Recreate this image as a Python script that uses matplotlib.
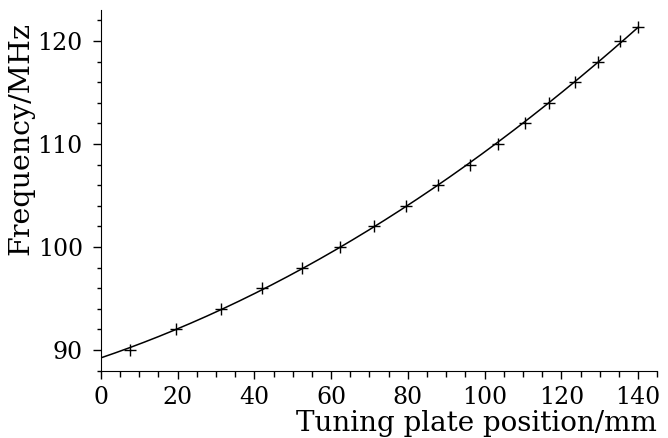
import numpy as np
import matplotlib.pyplot as plt
from matplotlib.ticker import MultipleLocator

# Measured tuning plate positions (mm) and resonant frequency (MHz)
position_mm = [7.5, 19.5, 31.3, 42.0, 52.3, 62.2, 71.2, 79.5, 87.8,
               96.3, 103.5, 110.4, 116.9, 123.6, 129.6, 135.3, 140.0]
frequency_mhz = [90.0, 92.0, 94.0, 96.0, 98.0, 100.0, 102.0, 104.0, 106.0,
                 108.0, 110.0, 112.0, 114.0, 116.0, 118.0, 120.0, 121.4]

x_ticks = [0, 20, 40, 60, 80, 100, 120, 140]
y_ticks = [90, 100, 110, 120]


def main():
    plt.rcParams["font.family"] = ["DejaVu Serif"]

    fig = plt.figure(figsize=(6.68, 4.38), dpi=100)
    ax = fig.add_axes([0.151, 0.154, 0.833, 0.823])

    # smooth calibration curve fitted through the measurements
    coeffs = np.polyfit(position_mm, frequency_mhz, 2)
    xs = np.linspace(0, 140, 300)
    ax.plot(xs, np.polyval(coeffs, xs), color="black", lw=1.1)

    ax.plot(position_mm, frequency_mhz, linestyle="none", marker="+",
            markersize=9, markeredgewidth=1.0, color="black")

    ax.set_xlim(0, 145)
    ax.set_ylim(88, 123)
    ax.set_xticks(x_ticks)
    ax.set_yticks(y_ticks)
    ax.xaxis.set_minor_locator(MultipleLocator(5))
    ax.yaxis.set_minor_locator(MultipleLocator(2))

    ax.spines["top"].set_visible(False)
    ax.spines["right"].set_visible(False)
    ax.tick_params(axis="x", which="major", direction="out", length=6,
                   width=1, labelsize=17, pad=5)
    ax.tick_params(axis="x", which="minor", direction="out", length=4,
                   width=1)
    ax.tick_params(axis="y", which="major", direction="out", length=6,
                   width=1, labelsize=17, pad=7)
    ax.tick_params(axis="y", which="minor", direction="out", length=3,
                   width=1)

    ax.set_xlabel("Tuning plate position/mm", fontsize=20, loc="right")
    ax.xaxis.set_label_coords(1.0, -0.11)
    ax.set_ylabel("Frequency/MHz", fontsize=20.5)
    ax.yaxis.set_label_coords(-0.119, 0.644)

    fig.savefig("out.png", dpi=100)
    plt.close(fig)


if __name__ == "__main__":
    main()
